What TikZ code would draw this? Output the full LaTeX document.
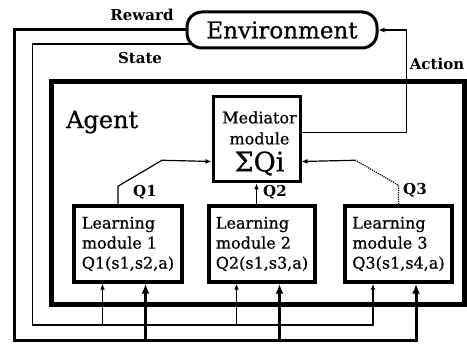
\documentclass[tikz,border=0pt]{standalone}
\usepackage{fontspec}
\setmainfont{DejaVu Serif}[UprightFeatures={FakeBold=0.6}]
\usetikzlibrary{arrows.meta}

\begin{document}
\begin{tikzpicture}[x=1pt,y=-1pt]
        \tikzstyle{module}=[draw,line width=3.5pt,inner sep=0pt,align=left,minimum height=76pt,font=\fontsize{16}{20}\selectfont]
        \tikzstyle{heavy}=[line width=3pt,-{Latex[length=10pt,width=8pt]}]
        \tikzstyle{light}=[line width=1.2pt,-{Latex[length=6pt,width=5pt]}]
        \tikzstyle{tag}=[inner sep=0pt,font=\fontsize{15}{15}\selectfont\bfseries]
        \useasboundingbox (0,0) rectangle (467,345);
        % environment and agent
        \node[draw,line width=3pt,rounded corners=15pt,minimum width=190pt,minimum height=36pt,font=\fontsize{23}{23}\selectfont] (env) at (282,30) {Environment};
        \node[draw,line width=5pt,minimum width=413pt,minimum height=222.5pt] (agent) at (258,193) {};
        \node[anchor=west,inner sep=0pt,font=\fontsize{24}{24}\selectfont] (agentname) at (66,122) {Agent};
        % modules
        \node[draw,line width=3pt,align=center,inner sep=0pt,minimum width=87pt,minimum height=85pt,font=\fontsize{16}{21}\selectfont] (med) at (256.5,139.5) {};
        \node[align=center,inner sep=0pt,font=\fontsize{16}{21}\selectfont] (medtext) at ([xshift=3,yshift=-4]med.center) {Mediator\\module\\[6pt]{\fontsize{27}{27}\selectfont ΣQi}};
        \node[module,minimum width=108pt] (lm1) at (128,244) {Learning\\module 1\\Q1(s1,s2,a)};
        \node[module,minimum width=106pt] (lm2) at (262,244) {Learning\\module 2\\Q2(s1,s3,a)};
        \node[module,minimum width=107pt] (lm3) at (398.5,244) {Learning\\module 3\\Q3(s1,s4,a)};
        \foreach \m in {1,2,3} {
            \coordinate (r\m) at ([xshift=17.5]lm\m.south);
            \coordinate (s\m) at ([xshift=-25.5]lm\m.south);
        }
        \coordinate (rwcorner) at (14,341);
        \coordinate (stcorner) at (32.5,325);
        % reward and state
        \draw[heavy] (env.west) -| (rwcorner) -| (r3);
        \draw[heavy] (r1 |- rwcorner) -- (r1);
        \draw[heavy] (r2 |- rwcorner) -- (r2);
        \draw[light] ([xshift=5,yshift=-14]env.west) -| (stcorner) -| (s3);
        \draw[light] (s1 |- stcorner) -- (s1);
        \draw[light] (s2 |- stcorner) -- (s2);
        % action
        \draw[light] ([yshift=7]med.east) -- ++(105,0) |- (env.east);
        % Q values
        \draw[light] ([xshift=-10]lm1.north) -- ++(0,-18) -- ++(44,-26) -- ([yshift=-22]med.west);
        \draw[light] (med.south |- lm2.north) -- (med.south);
        \draw[light,-,densely dotted] (lm3.north) -- ++(0,-19) -- ++(-43,-25) coordinate (q3knee);
        \draw[light] (q3knee) -- ([yshift=-22]med.east);
        % labels
        \node[tag] (rewardlabel) at (142,15) {Reward};
        \node[tag] (statelabel) at (140,58) {State};
        \node[tag] (actionlabel) at (437,64) {Action};
        \node[tag] (q1label) at (145,192) {Q1};
        \node[tag] (q2label) at (275,192) {Q2};
        \node[tag] (q3label) at (415,190) {Q3};
\end{tikzpicture}
\end{document}
